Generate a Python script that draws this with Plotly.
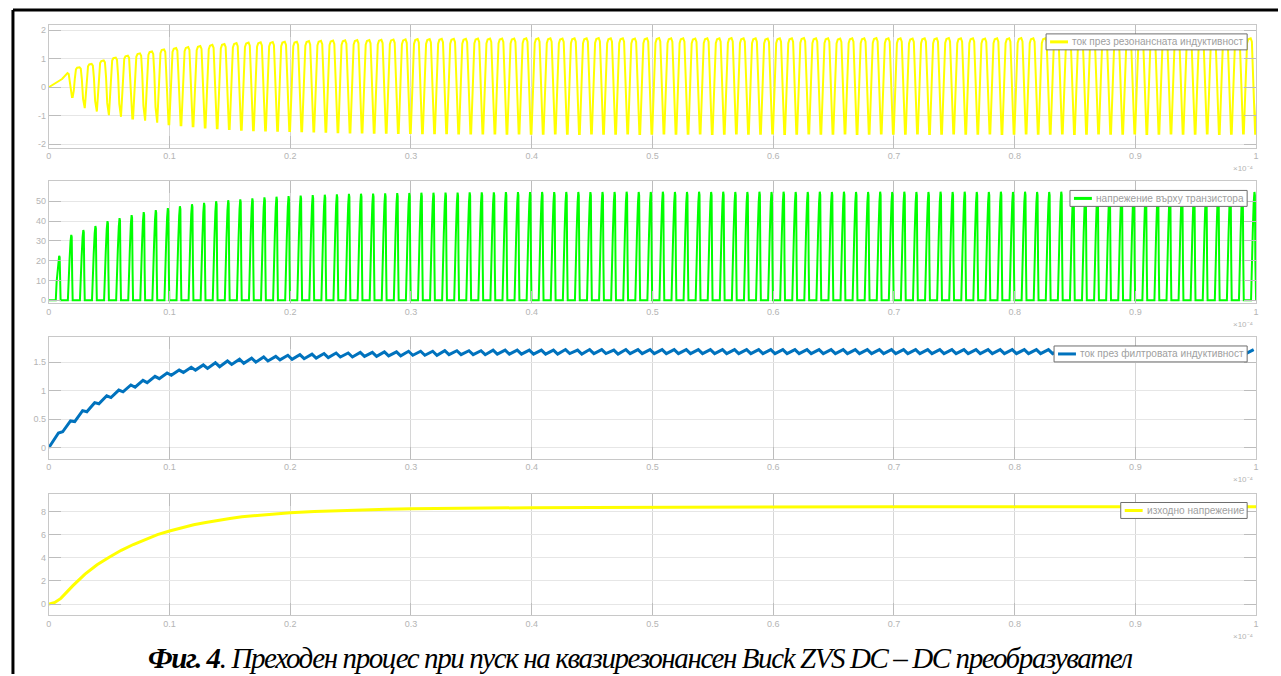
import plotly.graph_objects as go

# Time axis is in units of 1e-4 s; converter switching period in those units
PERIOD = 0.01

X_TICKS = [0, 0.1, 0.2, 0.3, 0.4, 0.5, 0.6, 0.7, 0.8, 0.9, 1]
X_TICK_TEXT = ["0", "0.1", "0.2", "0.3", "0.4", "0.5", "0.6", "0.7", "0.8", "0.9", "1"]

# --- Resonant inductor current [A]: top level before each turn-off dip, and dip minimum
RES_START = [0.0, 0.26, 0.29]
RES_TOP = [0.50, 0.70, 0.82, 0.94, 1.04, 1.11, 1.19, 1.26, 1.33, 1.38,
           1.41, 1.45, 1.49, 1.52, 1.55, 1.57, 1.58, 1.59, 1.60, 1.60,
           1.62, 1.63, 1.64, 1.65, 1.66, 1.66, 1.67, 1.68, 1.68, 1.69,
           1.69, 1.70, 1.70, 1.70, 1.71, 1.71, 1.71, 1.71, 1.72, 1.72,
           1.72, 1.71, 1.72, 1.72, 1.73, 1.72, 1.72, 1.71, 1.72, 1.73,
           1.72, 1.72, 1.71, 1.72, 1.72, 1.73, 1.72, 1.72, 1.71, 1.72,
           1.72, 1.73, 1.72, 1.72, 1.71, 1.72, 1.72, 1.73, 1.72, 1.72,
           1.71, 1.72, 1.72, 1.73, 1.72, 1.72, 1.71, 1.72, 1.72, 1.73,
           1.72, 1.72, 1.71, 1.72, 1.72, 1.73, 1.72, 1.72, 1.71, 1.72,
           1.72, 1.73, 1.72, 1.72, 1.71, 1.72, 1.72, 1.73, 1.72, 1.72]
RES_DIP = [-0.35, -0.75, -0.87, -1.00, -1.06, -1.12, -1.20, -1.27, -1.33, -1.36,
           -1.40, -1.44, -1.47, -1.50, -1.52, -1.54, -1.55, -1.56, -1.57, -1.58,
           -1.59, -1.60, -1.61, -1.62, -1.62, -1.63, -1.63, -1.64, -1.64, -1.65,
           -1.65, -1.65, -1.66, -1.66, -1.66, -1.66, -1.67, -1.66, -1.67, -1.67,
           -1.66, -1.67, -1.68, -1.66, -1.67, -1.67, -1.66, -1.68, -1.67, -1.66,
           -1.67, -1.67, -1.66, -1.68, -1.67, -1.66, -1.67, -1.67, -1.66, -1.68,
           -1.67, -1.66, -1.67, -1.67, -1.66, -1.68, -1.67, -1.66, -1.67, -1.67,
           -1.66, -1.68, -1.67, -1.66, -1.67, -1.67, -1.66, -1.68, -1.67, -1.66,
           -1.67, -1.67, -1.66, -1.68, -1.67, -1.66, -1.67, -1.67, -1.66, -1.68,
           -1.67, -1.66, -1.67, -1.67, -1.66, -1.68, -1.67, -1.66, -1.67]

# --- Voltage across the transistor [V]: peak of each resonant pulse
SW_PEAK = [22.5, 33.0, 35.5, 37.5, 40.0, 41.5, 43.0, 44.5, 45.5, 46.5,
           47.5, 48.5, 49.2, 50.0, 50.5, 51.0, 51.5, 52.0, 52.3, 52.6,
           52.9, 53.1, 53.3, 53.5, 53.7, 53.8, 53.9, 54.0, 54.1, 54.2,
           54.3, 54.3, 54.4, 54.4, 54.5, 54.5, 54.5, 54.6, 54.6, 54.6,
           54.7, 54.6, 54.7, 54.7, 54.6, 54.7, 54.7, 54.8, 54.7, 54.7,
           54.8, 54.7, 54.7, 54.8, 54.7, 54.8, 54.7, 54.7, 54.8, 54.7,
           54.8, 54.7, 54.7, 54.8, 54.7, 54.8, 54.7, 54.7, 54.8, 54.7,
           54.8, 54.7, 54.7, 54.8, 54.7, 54.8, 54.7, 54.7, 54.8, 54.7,
           54.8, 54.7, 54.7, 54.8, 54.7, 54.8, 54.7, 54.7, 54.8, 54.7,
           54.8, 54.7, 54.7, 54.8, 54.7, 54.8, 54.7, 54.7, 54.8, 54.7]

# --- Filter inductor current [A]: ripple minimum and maximum in each period
LF_TROUGH = [0.28, 0.46, 0.63, 0.77, 0.88, 0.98, 1.06, 1.14, 1.21,
             1.27, 1.32, 1.36, 1.39, 1.42, 1.46, 1.48, 1.50, 1.52, 1.54,
             1.55, 1.56, 1.57, 1.58, 1.59, 1.59, 1.60, 1.60, 1.61, 1.61,
             1.62, 1.62, 1.62, 1.63, 1.63, 1.63, 1.63, 1.64, 1.64, 1.64,
             1.64, 1.64, 1.64, 1.65, 1.64, 1.65, 1.65, 1.64, 1.65, 1.65,
             1.65, 1.65, 1.65, 1.65, 1.65, 1.65, 1.65, 1.65, 1.65, 1.65,
             1.65, 1.65, 1.65, 1.65, 1.65, 1.65, 1.65, 1.65, 1.65, 1.65,
             1.65, 1.65, 1.65, 1.65, 1.65, 1.65, 1.65, 1.65, 1.65, 1.65,
             1.65, 1.65, 1.65, 1.65, 1.65, 1.65, 1.65, 1.65, 1.65, 1.65,
             1.65, 1.65, 1.65, 1.65, 1.65, 1.65, 1.65, 1.65, 1.65, 1.65]
LF_PEAK = [0.26, 0.47, 0.65, 0.79, 0.91, 1.01, 1.10, 1.18, 1.25, 1.31,
           1.36, 1.41, 1.45, 1.49, 1.52, 1.55, 1.57, 1.59, 1.60, 1.62,
           1.63, 1.64, 1.65, 1.66, 1.66, 1.67, 1.67, 1.68, 1.68, 1.69,
           1.69, 1.69, 1.70, 1.70, 1.70, 1.70, 1.71, 1.71, 1.71, 1.71,
           1.71, 1.71, 1.72, 1.71, 1.72, 1.72, 1.71, 1.72, 1.72, 1.72,
           1.72, 1.72, 1.72, 1.72, 1.72, 1.72, 1.72, 1.72, 1.72, 1.72,
           1.72, 1.72, 1.72, 1.72, 1.72, 1.72, 1.72, 1.72, 1.72, 1.72,
           1.72, 1.72, 1.72, 1.72, 1.72, 1.72, 1.72, 1.72, 1.72, 1.72,
           1.72, 1.72, 1.72, 1.72, 1.72, 1.72, 1.72, 1.72, 1.72, 1.72,
           1.72, 1.72, 1.72, 1.72, 1.72, 1.72, 1.72, 1.72, 1.72, 1.72]

# --- Output voltage [V]
VOUT_T = [0, 0.005, 0.01, 0.015, 0.02, 0.03, 0.04, 0.05, 0.06, 0.07, 0.08, 0.09,
          0.10, 0.11, 0.12, 0.13, 0.14, 0.15, 0.16, 0.17, 0.18, 0.19, 0.20,
          0.22, 0.24, 0.26, 0.28, 0.30, 0.33, 0.36, 0.40, 0.45, 0.50, 0.60,
          0.70, 0.80, 0.90, 1.00]
VOUT = [0.0, 0.15, 0.5, 1.05, 1.6, 2.6, 3.4, 4.05, 4.65, 5.15, 5.6, 6.0,
        6.32, 6.6, 6.85, 7.05, 7.25, 7.4, 7.55, 7.65, 7.75, 7.83, 7.9,
        8.0, 8.08, 8.14, 8.19, 8.23, 8.27, 8.3, 8.33, 8.35, 8.37, 8.39,
        8.4, 8.41, 8.41, 8.42]

SERIES_NAMES = ["ток през резонансната индуктивност",
                "напрежение върху транзистора",
                "ток през филтровата индуктивност",
                "изходно напрежение"]
Y_TICKS = [[-2, -1, 0, 1, 2], [0, 10, 20, 30, 40, 50], [0, 0.5, 1, 1.5], [0, 2, 4, 6, 8]]
Y_TICK_TEXT = [["-2", "-1", "0", "1", "2"], ["0", "10", "20", "30", "40", "50"],
               ["0", "0.5", "1", "1.5"], ["0", "2", "4", "6", "8"]]
X_EXPONENT = "×10⁻⁴"
CAPTION_BOLD = "Фиг. 4"
CAPTION_REST = ". Преходен процес при пуск на квазирезонансен Buck ZVS DC – DC преобразувател"

# ---------------- waveform assembly ----------------
# shape of a turn-off dip around its centre: (time offset, weight, level it refers to)
DIP_SHAPE = [(-0.0040, 1.00, "top"), (-0.0030, 0.93, "top"), (-0.0021, 0.40, "top"),
             (-0.0011, 0.55, "dip"), (-0.0003, 0.98, "dip"), (0.0003, 0.98, "dip"),
             (0.0012, 0.35, "dip"), (0.0021, 0.45, "next"), (0.0030, 0.90, "next"),
             (0.0040, 0.98, "next")]
res_x = [0.0, 0.009, 0.011]
res_y = list(RES_START)
for k in range(1, len(RES_DIP) + 1):
    centre = k * PERIOD + 0.0095
    levels = {"top": RES_TOP[k - 1], "dip": RES_DIP[k - 1], "next": RES_TOP[k]}
    for dt, w, ref in DIP_SHAPE:
        res_x.append(centre + dt)
        res_y.append(w * levels[ref])
res_x.append(1.0)
res_y.append(RES_TOP[-1])

# shape of one drain-source voltage pulse inside a period: (time offset, fraction of peak)
PULSE_SHAPE = [(0.0058, 0.0), (0.0065, 0.42), (0.0072, 0.62), (0.0080, 0.90),
               (0.0086, 1.0), (0.0090, 0.97), (0.0094, 0.35), (0.0098, 0.0)]
sw_x = [0.0]
sw_y = [0.0]
for k, peak in enumerate(SW_PEAK):
    for dt, frac in PULSE_SHAPE:
        sw_x.append(k * PERIOD + dt)
        sw_y.append(frac * peak)
sw_x.append(1.0)
sw_y.append(0.0)

lf_x = [0.0]
lf_y = [0.0]
for c, peak in enumerate(LF_PEAK):
    if c > 0:
        lf_x.append(c * PERIOD + 0.0015)
        lf_y.append(LF_TROUGH[c - 1])
    lf_x.append(c * PERIOD + 0.008)
    lf_y.append(peak)

# ---------------- figure ----------------
W, H = 1281, 676
X0, X1 = 46, 1259
PANELS = [(25, 148), (182, 304), (338, 460), (495, 617)]
Y_RANGES = [[-2.12, 2.19], [-1.4, 60], [-0.19, 1.94], [-0.95, 9.55]]
COLORS = ["#ffff00", "#00ff00", "#0072bd", "#ffff00"]
WIDTHS = [2, 2, 3, 3]
DATA = [(res_x, res_y), (sw_x, sw_y), (lf_x, lf_y), (VOUT_T, VOUT)]
# legend boxes: left edge, top edge (px); all boxes end at x=1250 and are 16 px tall
LEGEND_BOX = [(1048, 34), (1072, 191), (1056, 347), (1123, 504)]


def px(x):
    return x / W


def py(y):
    return 1 - y / H


fig = go.Figure()
layout = dict(width=W, height=H, margin=dict(l=0, r=0, t=0, b=0),
              paper_bgcolor="white", plot_bgcolor="white", showlegend=False,
              font=dict(family="Liberation Sans, Arial, sans-serif"),
              annotations=[], shapes=[])

for i, ((top, bot), (xs, ys)) in enumerate(zip(PANELS, DATA)):
    n = "" if i == 0 else str(i + 1)
    fig.add_trace(go.Scatter(x=xs, y=ys, mode="lines", name=SERIES_NAMES[i],
                             line=dict(color=COLORS[i], width=WIDTHS[i]),
                             xaxis="x" + n, yaxis="y" + n))
    layout["xaxis" + n] = dict(domain=[px(X0), px(X1)], range=[0, 1], anchor="y" + n,
                               tickvals=X_TICKS, ticktext=X_TICK_TEXT,
                               showgrid=True, gridcolor="#d6d6d6", gridwidth=1,
                               showline=True, linecolor="#c8c8c8", linewidth=1,
                               mirror="ticks", ticks="inside", ticklen=12,
                               tickcolor="#bdbdbd",
                               tickfont=dict(size=9, color="#b4b4b4"),
                               zeroline=False)
    layout["yaxis" + n] = dict(domain=[py(bot), py(top)], range=Y_RANGES[i], anchor="x" + n,
                               tickvals=Y_TICKS[i], ticktext=Y_TICK_TEXT[i],
                               showgrid=True, gridcolor="#e6e6e6", gridwidth=1,
                               showline=True, linecolor="#c8c8c8", linewidth=1,
                               mirror="ticks", ticks="inside", ticklen=12,
                               tickcolor="#bdbdbd",
                               tickfont=dict(size=9, color="#b4b4b4"),
                               zeroline=False)

    # legend: framed box with a line sample and the series name
    bx, by = LEGEND_BOX[i]
    layout["shapes"].append(dict(type="rect", xref="paper", yref="paper",
                                 x0=px(bx), x1=px(1250), y0=py(by + 16), y1=py(by),
                                 fillcolor="white", line=dict(color="#6e6e6e", width=1),
                                 layer="above"))
    layout["shapes"].append(dict(type="line", xref="paper", yref="paper",
                                 x0=px(bx + 4), x1=px(bx + 22), y0=py(by + 8), y1=py(by + 8),
                                 line=dict(color=COLORS[i], width=3), layer="above"))
    layout["annotations"].append(dict(
        x=px(bx + 24), y=py(by + 8), xref="paper", yref="paper",
        xanchor="left", yanchor="middle", showarrow=False,
        text=SERIES_NAMES[i], font=dict(size=10.1, color="#a0a0a0")))

    # x-axis scale factor
    layout["annotations"].append(dict(
        x=px(X1), y=py(bot + 21), xref="paper", yref="paper",
        xanchor="right", yanchor="middle", showarrow=False,
        text=X_EXPONENT, font=dict(size=8, color="#b4b4b4")))

# caption
layout["annotations"].append(dict(
    x=px(641), y=py(660), xref="paper", yref="paper",
    xanchor="center", yanchor="middle", showarrow=False,
    text=(f"<span style='letter-spacing:-1.4px'><b><i>{CAPTION_BOLD}</i></b>"
          f"<i>{CAPTION_REST}</i></span>"),
    font=dict(family="Liberation Serif, Times New Roman, serif", size=29, color="black")))

# page frame
layout["shapes"] += [
    dict(type="line", xref="paper", yref="paper", x0=px(10), x1=1, y0=py(10), y1=py(10),
         line=dict(color="black", width=3)),
    dict(type="line", xref="paper", yref="paper", x0=px(10), x1=px(10), y0=0, y1=py(10),
         line=dict(color="black", width=3)),
]

fig.update_layout(**layout)
fig.write_html("out.html")
